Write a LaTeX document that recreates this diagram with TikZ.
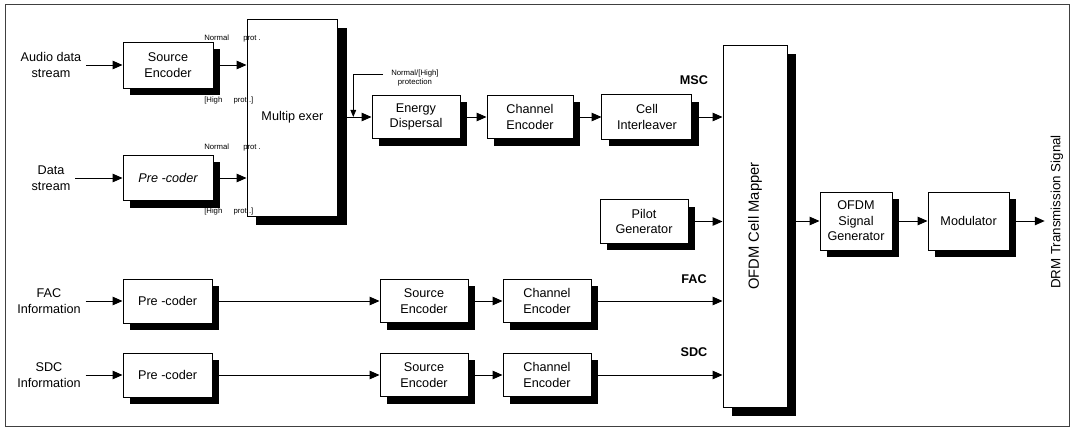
\documentclass[tikz,border=0pt]{standalone}
\usepackage{fontspec}
\setmainfont{Liberation Sans}
\usetikzlibrary{arrows.meta,positioning,shadows,calc}
\newcommand{\protfont}{\fontsize{5.5}{6.5}\selectfont}
\newcommand{\blokfont}{\fontsize{9}{11}\selectfont}

\begin{document}
\begin{tikzpicture}[
    % blocchi con ombra nera
    blok/.style={rectangle, draw=black, line width=0.7pt, fill=white, align=center, font=\blokfont,
        minimum width=2.2cm, minimum height=1.08cm,
        drop shadow={shadow xshift=5pt, shadow yshift=-5pt, fill=black, opacity=1}},
    bigblok/.style={rectangle, draw=black, line width=0.7pt, fill=white, align=center, font=\blokfont,
        drop shadow={shadow xshift=6.5pt, shadow yshift=-6.5pt, fill=black, opacity=1}},
    arr/.style={line width=0.7pt, -{Triangle[length=7pt,width=6pt]}},
    lbl/.style={align=center, font=\blokfont},
    chan/.style={font=\blokfont\bfseries}
]
\useasboundingbox (0,0) rectangle (26.8,10.7);

% Cornice
\draw[line width=0.6pt, black!75] (0.125,0.05) rectangle (26.725,10.6);

% Ingressi MSC
\node[lbl] (audioIn) at (1.275,9.075) {Audio data\\stream};
\node[lbl] (dataIn) at (1.275,6.25) {Data\\stream};
\node[blok, minimum width=2.25cm, minimum height=1.15cm] (srcAudio) at (4.2,9.075) {Source\\Encoder};
\node[blok, minimum width=2.25cm, minimum height=1.13cm] (preData) at (4.2,6.25) {\itshape Pre -coder};

% Multiplexer
\node[bigblok, minimum width=2.27cm, minimum height=4.93cm] (mux) at (7.31,7.76) {Multip exer};
\node[font=\protfont, anchor=west, inner sep=0pt] (normA) at (5.1,9.725) {Normal\hspace{10pt}prot .};
\node[font=\protfont, anchor=west, inner sep=0pt] (highA) at (5.1,8.2) {[High\hspace{8pt}prot .]};
\node[font=\protfont, anchor=west, inner sep=0pt] (normB) at (5.1,7.025) {Normal\hspace{10pt}prot .};
\node[font=\protfont, anchor=west, inner sep=0pt] (highB) at (5.1,5.425) {[High\hspace{8pt}prot .]};

% Catena MSC
\node[blok] (energy) at (10.4,7.775) {Energy\\Dispersal};
\node[blok, minimum width=2.15cm, right=0.65cm of energy] (chanMsc) {Channel\\Encoder};
\node[blok, minimum width=2.25cm, minimum height=1.12cm, right=0.7cm of chanMsc] (cellInt) {Cell\\Interleaver};
\node[blok] (pilot) at (16.1,5.1625) {Pilot\\Generator};
\coordinate (junc) at ([xshift=0.375cm]mux.east |- energy.west);
\node[font=\protfont, align=center, anchor=west, inner sep=0pt] (protLbl) at (9.775,8.76) {Normal/[High]\\protection};

% FAC e SDC
\node[lbl] (facIn) at (1.225,3.175) {FAC\\Information};
\node[lbl] (sdcIn) at (1.225,1.325) {SDC\\Information};
\node[blok, minimum width=2.23cm, minimum height=1.1cm] (preFac) at (4.19,3.175) {Pre -coder};
\node[blok, minimum width=2.23cm, minimum height=1.1cm] (preSdc) at (4.19,1.325) {Pre -coder};
\node[blok] (srcFac) at (10.6,3.175) {Source\\Encoder};
\node[blok, right=0.85cm of srcFac] (chanFac) {Channel\\Encoder};
\node[blok] (srcSdc) at (10.6,1.325) {Source\\Encoder};
\node[blok, right=0.85cm of srcSdc] (chanSdc) {Channel\\Encoder};

% Mapper e uscita
\node[bigblok, minimum width=1.6cm, minimum height=9.05cm] (mapper) at (18.875,5.05) {\fontsize{10.5}{12}\selectfont\rotatebox{90}{OFDM Cell Mapper}};
\node[chan] (mscLbl) at (17.35,8.7) {MSC};
\node[chan] (facLbl) at (17.35,3.725) {FAC};
\node[chan] (sdcLbl) at (17.35,1.9) {SDC};
\node[blok, minimum width=1.8cm, minimum height=1.45cm] (ofdmGen) at (21.4,5.175) {OFDM\\Signal\\Generator};
\node[blok, minimum width=2.03cm, minimum height=1.45cm, right=0.875cm of ofdmGen] (modul) {Modulator};
\coordinate (drmOut) at ([xshift=0.875cm]modul.east);
\node[rotate=90, font=\fontsize{9.5}{11}\selectfont] (drmLbl) at (26.425,5.4) {DRM Transmission Signal};

% Connessioni
\draw[arr] (audioIn.east) -- (srcAudio.west);
\draw[arr] (dataIn.east) -- (preData.west);
\draw[arr] (srcAudio.east) -- (srcAudio.east -| mux.west);
\draw[arr] (preData.east) -- (preData.east -| mux.west);
\draw[arr] (mux.east |- energy.west) -- (energy.west);
\draw[line width=0.6pt, -{Triangle[length=5pt,width=4pt]}] ([xshift=-0.2cm,yshift=2.5pt]protLbl.west) -| (junc);
\draw[arr] (energy.east) -- (chanMsc.west);
\draw[arr] (chanMsc.east) -- (cellInt.west);
\draw[arr] (cellInt.east) -- (cellInt.east -| mapper.west);
\draw[arr] (pilot.east) -- (pilot.east -| mapper.west);
\draw[arr] (facIn.east) -- (preFac.west);
\draw[arr] (sdcIn.east) -- (preSdc.west);
\draw[arr] (preFac.east) -- (srcFac.west);
\draw[arr] (preSdc.east) -- (srcSdc.west);
\draw[arr] (srcFac.east) -- (chanFac.west);
\draw[arr] (srcSdc.east) -- (chanSdc.west);
\draw[arr] (chanFac.east) -- (chanFac.east -| mapper.west);
\draw[arr] (chanSdc.east) -- (chanSdc.east -| mapper.west);
\draw[arr] (mapper.east |- ofdmGen.west) -- (ofdmGen.west);
\draw[arr] (ofdmGen.east) -- (modul.west);
\draw[arr] (modul.east) -- (drmOut);

\end{tikzpicture}
\end{document}
